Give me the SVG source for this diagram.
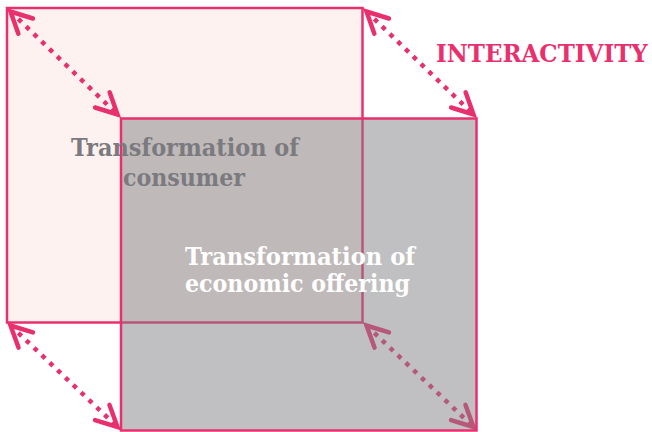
<svg xmlns="http://www.w3.org/2000/svg" width="652" height="432" viewBox="0 0 652 432">
<style>
.box{stroke:#e9306e;stroke-width:2.5}
.conn{fill:none;stroke:#e9306e;stroke-width:4.5;stroke-dasharray:4.5 6.3}
.lbl{font-family:"DejaVu Serif","Liberation Serif",serif;font-size:25px;font-weight:bold}
</style>
<defs>
<marker id="chev" markerUnits="userSpaceOnUse" orient="auto-start-reverse" refX="0" refY="0" markerWidth="40" markerHeight="40" viewBox="-30 -20 40 40" overflow="visible">
<path d="M-21,-10.5 L0,0 L-21,10.5" fill="none" stroke="#e9306e" stroke-width="4.5" stroke-linecap="round" stroke-linejoin="miter"/>
</marker>
</defs>
<rect width="652" height="432" fill="#ffffff"/>
<g id="back-square">
<rect class="box" x="7" y="8" width="355.5" height="314.5" fill="#fdf2f0"/>
</g>
<g id="connectors">
<path class="conn" d="M10.5,11.5 L117.5,114.5" marker-start="url(#chev)" marker-end="url(#chev)"/>
<path class="conn" d="M366.5,11.5 L473.5,114.5" marker-start="url(#chev)" marker-end="url(#chev)"/>
<path class="conn" d="M10.5,325.5 L117.5,427" marker-start="url(#chev)" marker-end="url(#chev)"/>
<path class="conn" d="M366.5,325.5 L473.5,427" marker-start="url(#chev)" marker-end="url(#chev)"/>
</g>
<g id="front-square">
<rect x="121" y="118.5" width="355.5" height="312" fill="#817f83" fill-opacity="0.5"/>
<rect class="box" x="121" y="118.5" width="355.5" height="312" fill="none"/>
</g>
<g id="consumer-label">
<text class="lbl" fill="#7b7a7e" x="71" y="156" textLength="228" lengthAdjust="spacingAndGlyphs">Transformation of</text>
<text class="lbl" fill="#7b7a7e" x="123" y="186" textLength="122" lengthAdjust="spacingAndGlyphs">consumer</text>
</g>
<g id="offering-label">
<text class="lbl" fill="#ffffff" x="185" y="265" textLength="230" lengthAdjust="spacingAndGlyphs">Transformation of</text>
<text class="lbl" fill="#ffffff" x="185" y="292" textLength="225" lengthAdjust="spacingAndGlyphs">economic offering</text>
</g>
<g id="interactivity-label">
<text class="lbl" fill="#e9306e" transform="translate(436,62) scale(0.92,1)" x="0" y="0">INTERACTIVITY</text>
</g>
</svg>
